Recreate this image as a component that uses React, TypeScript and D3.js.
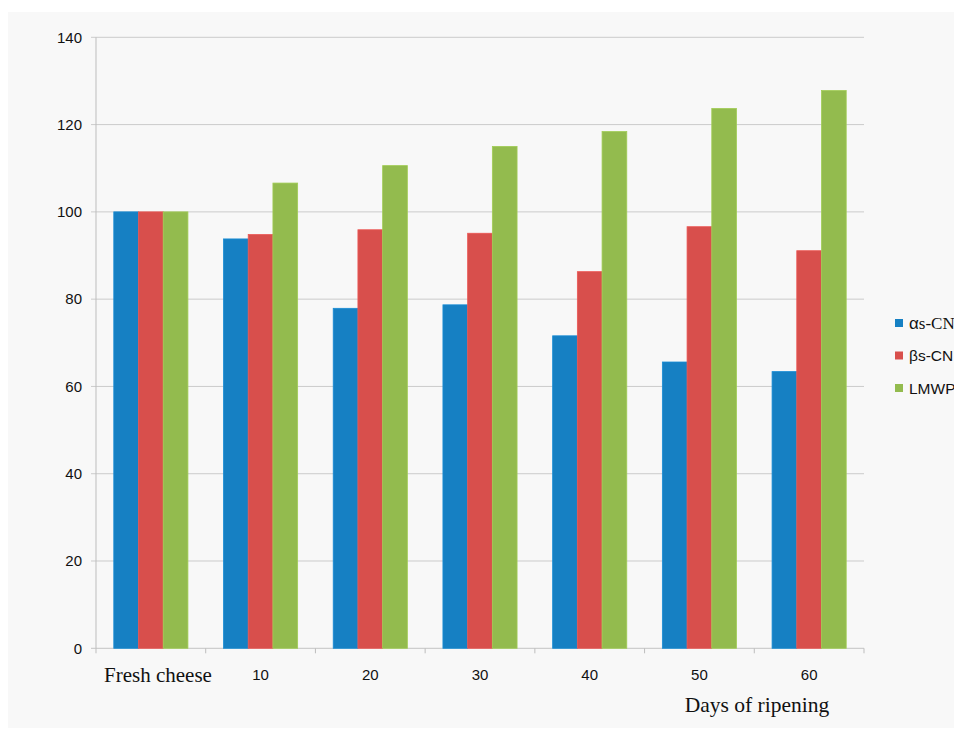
import * as d3 from "d3";

const categories = ["Fresh cheese", "10", "20", "30", "40", "50", "60"];
const seriesNames = ["αs-CN", "βs-CN", "LMWP"];
const alphaCN = [100, 93.8, 77.9, 78.7, 71.6, 65.6, 63.4];
const betaCN = [100, 94.8, 95.9, 95.1, 86.3, 96.6, 91.1];
const lmwp = [100, 106.6, 110.6, 115.0, 118.4, 123.7, 127.8];
const yTicks = [0, 20, 40, 60, 80, 100, 120, 140];

const colors = ["#1680C3", "#D84F4C", "#93BB4E"];
const W = 954;
const H = 729;
const left = 96;
const right = 864;
const top = 37.3;
const bottom = 648.3;
const sans = "'Liberation Sans', Arial, sans-serif";
const serif = "'Liberation Serif', 'Times New Roman', serif";

export default function App() {
  const values = [alphaCN, betaCN, lmwp];
  const x = d3.scaleBand<string>().domain(categories).range([left, right]);
  const xi = d3
    .scaleBand<string>()
    .domain(seriesNames)
    .range([0, x.bandwidth()])
    .paddingInner(0)
    .paddingOuter(0.72);
  const y = d3.scaleLinear().domain([0, 140]).range([bottom, top]);
  const tickXs = categories.map((c) => x(c)!).concat([right]);

  return (
    <svg
      width={W}
      height={H}
      style={{ position: "absolute", left: 0, top: 0, display: "block" }}
    >
      <rect x={0} y={0} width={W} height={H} fill="#ffffff" />
      <rect x={8} y={12} width={W - 8} height={H - 13} fill="#f8f8f8" />

      {/* grid lines + y ticks */}
      {yTicks.map((t) => (
        <g key={t}>
          <line
            x1={left - 5}
            x2={right}
            y1={y(t)}
            y2={y(t)}
            stroke={t === 0 ? "#c4c4c4" : "#cbcbcb"}
            strokeWidth={1}
          />
          <text
            x={82}
            y={y(t)}
            dy="0.35em"
            textAnchor="end"
            fontFamily={sans}
            fontSize={15}
            fill="#111"
          >
            {t}
          </text>
        </g>
      ))}
      <line x1={left} x2={left} y1={top} y2={bottom} stroke="#bdbdbd" />
      {tickXs.map((tx, i) => (
        <line key={i} x1={tx} x2={tx} y1={bottom} y2={bottom + 5} stroke="#bdbdbd" />
      ))}

      {/* bars */}
      {categories.map((c, ci) => (
        <g key={c} transform={`translate(${x(c)},0)`}>
          {seriesNames.map((s, si) => (
            <rect
              key={s}
              x={xi(s)}
              y={y(values[si][ci])}
              width={xi.bandwidth()}
              height={bottom - y(values[si][ci])}
              fill={colors[si]}
              stroke={d3.color(colors[si])!.brighter(0.25).toString()}
              strokeWidth={0.8}
            />
          ))}
        </g>
      ))}

      {/* x labels */}
      {categories.map((c, ci) =>
        ci === 0 ? (
          <text
            key={c}
            x={104}
            y={682}
            fontFamily={serif}
            fontSize={21}
            fill="#111"
          >
            {c}
          </text>
        ) : (
          <text
            key={c}
            x={x(c)! + x.bandwidth() / 2}
            y={680}
            textAnchor="middle"
            fontFamily={sans}
            fontSize={15}
            fill="#111"
          >
            {c}
          </text>
        )
      )}
      <text x={757} y={712} textAnchor="middle" fontFamily={serif} fontSize={21.5} fill="#111">
        Days of ripening
      </text>

      {/* legend */}
      {seriesNames.map((s, si) => (
        <g key={s} transform={`translate(895,${323 + si * 32.5})`}>
          <rect x={0} y={-4} width={8} height={8} fill={colors[si]} />
          {si === 0 ? (
            <text x={14} y={0} dy="0.36em" fontSize={17} fill="#111">
              <tspan style={{ fontFamily: sans }}>α</tspan>
              <tspan style={{ fontFamily: serif }}>s-CN</tspan>
            </text>
          ) : (
            <text x={14} y={0} dy="0.36em" fontFamily={sans} fontSize={15.5} fill="#111">
              {s}
            </text>
          )}
        </g>
      ))}
    </svg>
  );
}
